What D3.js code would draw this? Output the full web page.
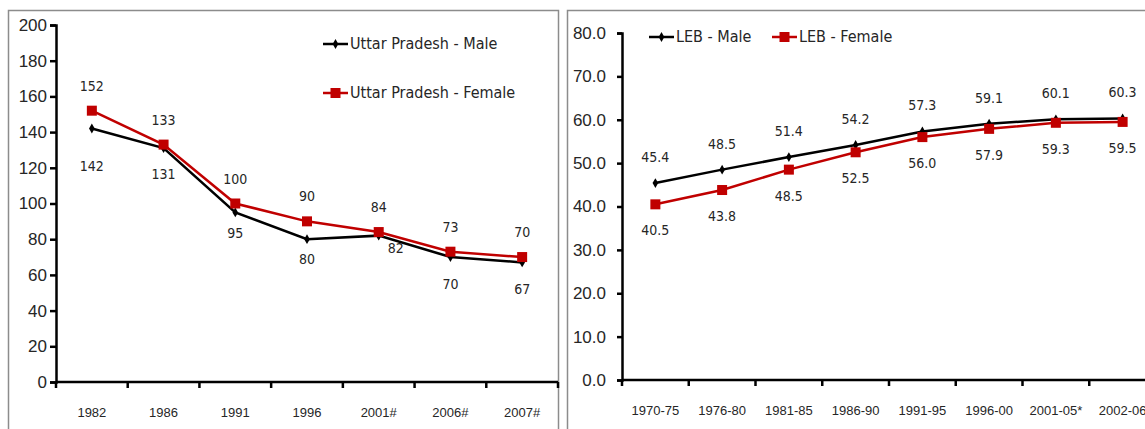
<!DOCTYPE html>
<html>
<head>
<meta charset="utf-8">
<script src="https://cdn.jsdelivr.net/npm/d3@7"></script>
<style>
  body { margin: 0; background: #fff; }
  svg { display: block; font-family: "Liberation Sans Narrow", "DejaVu Sans Condensed", sans-serif; }
  .domain { stroke: #000; stroke-width: 2.5; }
  .tick line { stroke: #000; stroke-width: 2.5; }
  text { fill: #262626; }
</style>
</head>
<body>
<svg id="chart" width="1145" height="429"></svg>
<script>
// left panel: Uttar Pradesh IMR
let imr_years = ["1982", "1986", "1991", "1996", "2001#", "2006#", "2007#"]
let imr_male = [142, 131, 95, 80, 82, 70, 67]
let imr_female = [152, 133, 100, 90, 84, 73, 70]
let imr_ticks = [0, 20, 40, 60, 80, 100, 120, 140, 160, 180, 200]

// right panel: life expectancy at birth
let leb_periods = ["1970-75", "1976-80", "1981-85", "1986-90", "1991-95", "1996-00", "2001-05*", "2002-06"]
let leb_male = [45.4, 48.5, 51.4, 54.2, 57.3, 59.1, 60.1, 60.3]
let leb_female = [40.5, 43.8, 48.5, 52.5, 56.0, 57.9, 59.3, 59.5]
let leb_ticks = [0, 10, 20, 30, 40, 50, 60, 70, 80]

let red = "#c00000"
let svg = d3.select("#chart")

function panel_border(x0, x1) {
  svg.append("rect")
    .attr("x", x0 + 0.5).attr("y", 10.5)
    .attr("width", x1 - x0).attr("height", 440)
    .attr("fill", "none")
    .attr("stroke", "#8c8c8c")
    .attr("stroke-width", 1.5)
}

function marker(g, type, color, x, y) {
  if (type == "square") {
    g.append("rect")
      .attr("x", x - 5).attr("y", y - 5)
      .attr("width", 10).attr("height", 10)
      .attr("fill", color)
  } else {
    g.append("path")
      .attr("d", d3.symbol(d3.symbolDiamond, 28)())
      .attr("transform", `translate(${x},${y})`)
      .attr("fill", color)
  }
}

function draw_panel(opt) {
  let x = d3.scaleBand().domain(opt.cats).range([opt.left, opt.right])
  let y = d3.scaleLinear().domain(opt.ydomain).range([opt.bottom, opt.top])
  let g = svg.append("g")

  // x axis: labels centred, ticks on category boundaries
  let xa = g.append("g")
    .attr("transform", `translate(0,${opt.bottom})`)
    .call(d3.axisBottom(x).tickSize(0).tickPadding(opt.xpad))
  xa.select(".domain").attr("d", `M${opt.left},0H${opt.axisEnd}`)
  xa.selectAll("text").style("font-size", opt.xfont)
  let bounds = opt.cats.map(c => x(c)).concat([opt.right])
  xa.selectAll(".bound")
    .data(bounds).enter()
    .append("line")
    .attr("x1", d => d).attr("x2", d => d)
    .attr("y1", 0).attr("y2", 6)
    .attr("stroke", "#000").attr("stroke-width", 2.5)

  let ya = g.append("g")
    .attr("transform", `translate(${opt.left},0)`)
    .call(d3.axisLeft(y).tickValues(opt.yticks).tickFormat(opt.yfmt)
      .tickSizeOuter(0).tickSize(opt.ytick).tickPadding(opt.ypad))
  ya.selectAll("text").style("font-size", opt.yfont)

  let cx = c => x(c) + x.bandwidth() / 2
  let line = d3.line().x((d, i) => cx(opt.cats[i])).y(d => y(d))

  opt.series.forEach(s => {
    g.append("path")
      .attr("d", line(s.values))
      .attr("fill", "none")
      .attr("stroke", s.color)
      .attr("stroke-width", 2.5)
    s.values.forEach((v, i) => marker(g, s.marker, s.color, cx(opt.cats[i]), y(v)))
    g.selectAll(null)
      .data(s.values).enter()
      .append("text")
      .attr("x", (d, i) => cx(opt.cats[i]) + (s.dx ? s.dx[i] : 0))
      .attr("y", (d, i) => y(d) + s.dy + (s.ddy ? s.ddy[i] : 0))
      .attr("text-anchor", "middle")
      .attr("dominant-baseline", "middle")
      .style("font-size", opt.lfont)
      .text(d => opt.lfmt(d))
  })

  opt.legend.forEach(l => {
    let lg = g.append("g")
    lg.append("line")
      .attr("x1", l.x).attr("x2", l.x + 25)
      .attr("y1", l.y).attr("y2", l.y)
      .attr("stroke", l.color).attr("stroke-width", 2.5)
    marker(lg, l.marker, l.color, l.x + 12.5, l.y)
    lg.append("text")
      .attr("x", l.x + 27).attr("y", l.y)
      .attr("dominant-baseline", "middle")
      .style("font-size", opt.gfont)
      .text(l.text)
  })
}

panel_border(8, 558)
panel_border(567, 1200)

draw_panel({
  cats: imr_years, left: 56, right: 558, axisEnd: 558,
  ydomain: [0, 200], top: 25, bottom: 382, yticks: imr_ticks,
  yfmt: d3.format("d"), ytick: 6, ypad: 3, yfont: "17px",
  xfont: "13px", xpad: 26, lfont: "14px", gfont: "16px",
  lfmt: d3.format("d"),
  series: [
    {values: imr_male, color: "#000", marker: "diamond", dy: 27,
     ddy: [11, 0, -5, -6, -14, 1, 1], dx: [0, 0, 0, 0, 17, 0, 0]},
    {values: imr_female, color: red, marker: "square", dy: -24}
  ],
  legend: [
    {x: 323, y: 44, color: "#000", marker: "diamond", text: "Uttar Pradesh - Male"},
    {x: 323, y: 93, color: red, marker: "square", text: "Uttar Pradesh - Female"}
  ]
})

draw_panel({
  cats: leb_periods, left: 622, right: 1156, axisEnd: 1145,
  ydomain: [0, 80], top: 33, bottom: 380, yticks: leb_ticks,
  yfmt: d3.format(".1f"), ytick: 5, ypad: 11, yfont: "17px",
  xfont: "13px", xpad: 26, lfont: "14px", gfont: "16px",
  lfmt: d3.format(".1f"),
  series: [
    {values: leb_male, color: "#000", marker: "diamond", dy: -25},
    {values: leb_female, color: red, marker: "square", dy: 27}
  ],
  legend: [
    {x: 649, y: 37, color: "#000", marker: "diamond", text: "LEB - Male"},
    {x: 772, y: 37, color: red, marker: "square", text: "LEB - Female"}
  ]
})
</script>
</body>
</html>
